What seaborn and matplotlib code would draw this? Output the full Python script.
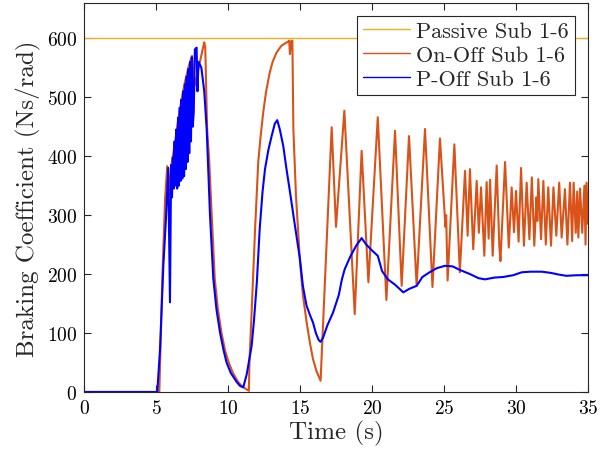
import matplotlib
matplotlib.use("Agg")
import matplotlib.pyplot as plt
import seaborn as sns
import pandas as pd

# ---- data ----
t_passive = [0, 35]
v_passive = [600, 600]

t_onoff = [0, 5.23, 5.45, 5.63, 5.78, 5.86, 5.95, 6.1, 6.3, 6.5, 6.8, 7.0, 7.3, 7.5,
           7.68, 8.35, 8.42, 8.55, 8.7, 8.85, 9.08, 9.3, 9.55, 9.8, 10.05, 10.35,
           10.7, 11.0, 11.45, 11.49, 11.64, 11.88, 12.1, 12.25, 12.45, 12.65, 12.9,
           13.1, 13.38, 13.7, 13.95, 14.17, 14.25, 14.3, 14.4, 14.47, 14.54, 14.72,
           15.0, 15.2, 15.46, 15.7, 15.9, 16.15, 16.43, 17.2, 17.5, 18.08, 18.8,
           19.28, 19.75, 20.4, 21.0, 21.6, 22.06, 22.57, 23.1, 23.68, 24.2, 24.72,
           25.1, 25.15, 25.25, 25.72, 26.1, 26.46, 26.64, 26.8, 27.03, 27.27, 27.42,
           27.57, 27.8, 27.96, 28.1, 28.2, 28.38, 28.66, 28.84, 28.92, 29.24, 29.5,
           29.7, 29.86, 30.0, 30.18, 30.35, 30.55, 30.74, 30.93, 31.1, 31.27, 31.42,
           31.48, 31.55, 31.74, 31.9, 32.07, 32.24, 32.43, 32.6, 32.8, 33.0, 33.17,
           33.4, 33.57, 33.75, 33.9, 34.0, 34.15, 34.25, 34.33, 34.45, 34.6, 34.75,
           34.83, 34.9, 35.0]
v_onoff = [0, 0, 200, 327, 383, 330, 360, 390, 420, 455, 500, 525, 555, 570,
           519, 593, 585, 446, 390, 310, 192, 140, 100, 70, 50, 32,
           17, 9, 2, 51, 135, 276, 390, 430, 475, 510, 542,
           560, 576, 587, 591, 594, 596, 573, 595, 596, 446, 333,
           220, 165, 118, 82, 56, 35, 19, 449, 280, 477, 132,
           409, 186, 466, 156, 443, 180, 434, 180, 446, 178, 430,
           280, 300, 189, 420, 203, 375, 265, 378, 242, 358, 270,
           347, 231, 356, 260, 360, 231, 384, 248, 222, 390, 245,
           347, 271, 341, 255, 380, 248, 355, 259, 364, 248, 330,
           290, 361, 259, 358, 250, 347, 248, 347, 265, 355, 262,
           344, 250, 355, 256, 355, 270, 340, 262, 345, 270, 350,
           250, 355, 285]

t_poff = [0, 5.09, 5.28, 5.51, 5.69, 5.85, 5.97, 6.05, 6.11, 6.17, 6.23, 6.29, 6.35,
          6.41, 6.47, 6.53, 6.59, 6.65, 6.71, 6.77, 6.83, 6.89, 6.95, 7.01, 7.07,
          7.13, 7.19, 7.25, 7.31, 7.37, 7.43, 7.49, 7.55, 7.62, 7.7, 7.82, 7.88,
          7.95, 8.15, 8.35, 8.52, 8.75, 8.98, 9.2, 9.45, 9.7, 9.9, 10.2, 10.6,
          10.85, 11.06, 11.3, 11.64, 11.8, 12.0, 12.2, 12.4, 12.57, 12.8, 13.03,
          13.25, 13.42, 13.6, 13.84, 14.05, 14.3, 14.6, 15.0, 15.2, 15.35, 15.46,
          15.7, 15.9, 16.1, 16.3, 16.43, 16.6, 16.9, 17.3, 17.5, 17.7, 17.9, 18.1,
          18.5, 18.9, 19.28, 19.6, 20.0, 20.4, 20.7, 21.1, 21.6, 22.17, 22.6, 23.1,
          23.5, 24.0, 24.5, 25.07, 25.6, 26.1, 26.8, 27.4, 27.85, 28.5, 29.1, 29.8,
          30.4, 31.0, 31.8, 32.4, 33.0, 33.5, 34.2, 35.0]
v_poff = [0, 0, 73, 214, 293, 380, 152, 385, 330, 398, 345, 425, 350,
          445, 345, 465, 350, 482, 358, 496, 362, 510, 366, 522, 378,
          535, 390, 548, 405, 560, 425, 568, 450, 474, 581, 584, 510,
          560, 550, 510, 446, 300, 192, 140, 100, 70, 50, 32, 17,
          10, 8, 30, 78, 120, 185, 276, 340, 378, 410, 434,
          455, 461, 445, 417, 380, 340, 290, 225, 180, 160, 146,
          130, 118, 100, 88, 85, 92, 113, 135, 150, 165, 190, 208,
          230, 248, 261, 250, 240, 231, 205, 191, 182, 169, 175, 180,
          195, 203, 210, 214, 213, 207, 200, 193, 191, 194, 195, 198,
          203, 204, 204, 202, 199, 197, 198, 198]

labels = ["Passive Sub 1-6", "On-Off Sub 1-6", "P-Off Sub 1-6"]
colors = ["#EDB120", "#D95319", "#0000FF"]
x_ticks = [0, 5, 10, 15, 20, 25, 30, 35]
y_ticks = [0, 100, 200, 300, 400, 500, 600]

# ---- style ----
sns.set_style("ticks")
plt.rcParams["font.family"] = ["cmr10", "DejaVu Serif"]
plt.rcParams["mathtext.fontset"] = "cm"
plt.rcParams["axes.formatter.use_mathtext"] = True
plt.rcParams["axes.unicode_minus"] = False

fig = plt.figure(figsize=(6.0, 4.6), dpi=100)
ax = fig.add_axes([0.14, 0.1457, 0.84, 0.846])

series = [(t_passive, v_passive), (t_onoff, v_onoff), (t_poff, v_poff)]
widths = [1.0, 1.5, 1.5]
for (tt, vv), lab, col, lw in zip(series, labels, colors, widths):
    df = pd.DataFrame({"t": tt, "v": vv})
    sns.lineplot(data=df, x="t", y="v", ax=ax, color=col, linewidth=lw,
                 label=lab, estimator=None, sort=False)

ax.set_xlim(0, 35)
ax.set_ylim(0, 660)
ax.set_xticks(x_ticks)
ax.set_yticks(y_ticks)
ax.set_xlabel("Time (s)", fontsize=18, labelpad=2)
ax.set_ylabel("Braking Coefficient (Ns/rad)", fontsize=18, labelpad=4)
ax.tick_params(direction="in", top=True, right=True, length=5, width=0.8,
               labelsize=14, colors="#262626", pad=5)
ax.tick_params(labelcolor="black")
for sp in ax.spines.values():
    sp.set_visible(True)
    sp.set_color("#262626")
    sp.set_linewidth(0.8)

leg = ax.legend(loc="upper right", fontsize=16, frameon=True, fancybox=False,
                edgecolor="#262626", framealpha=1, handlelength=2.1,
                handletextpad=0.3, labelspacing=0.2, borderpad=0.25,
                borderaxespad=0.6)
leg.get_frame().set_linewidth(0.8)
for line in leg.get_lines():
    line.set_linewidth(1.0)

fig.savefig("out.png", dpi=100)
